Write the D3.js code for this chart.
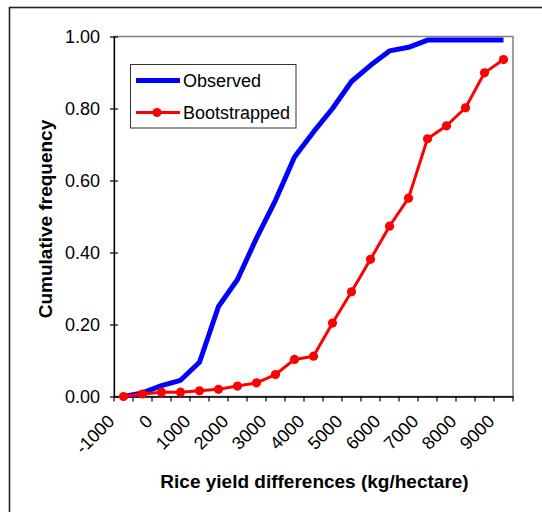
<!DOCTYPE html>
<html>
<head>
<meta charset="utf-8">
<script src="https://cdn.jsdelivr.net/npm/d3@7"></script>
<style>
  html, body { margin: 0; padding: 0; background: #fff; }
  svg { display: block; font-family: "Liberation Sans", Arial, sans-serif; }
</style>
</head>
<body>
<svg id="chart" width="542" height="512"></svg>
<script>
// ---- data ----
const categories = [-1000, -500, 0, 500, 1000, 1500, 2000, 2500, 3000, 3500, 4000,
                    4500, 5000, 5500, 6000, 6500, 7000, 7500, 8000, 8500, 9000];
const tickLabels = [-1000, 0, 1000, 2000, 3000, 4000, 5000, 6000, 7000, 8000, 9000];
const observed = [0.00, 0.01, 0.03, 0.045, 0.095, 0.25, 0.325, 0.44, 0.545, 0.665, 0.735,
                  0.80, 0.875, 0.92, 0.96, 0.97, 0.99, 0.99, 0.99, 0.99, 0.99];
const bootstrapped = [0.00, 0.007, 0.012, 0.012, 0.016, 0.020, 0.029, 0.038, 0.061, 0.103, 0.112,
                      0.204, 0.291, 0.381, 0.473, 0.551, 0.716, 0.752, 0.802, 0.899, 0.936];
const yTicks = [0, 0.2, 0.4, 0.6, 0.8, 1.0];
const seriesNames = ["Observed", "Bootstrapped"];

// ---- layout ----
const svg = d3.select("#chart");
const L = 114, R = 513, T = 36.5, B = 396.5;

const x = d3.scaleBand().domain(categories).range([L, R]).padding(0);
const y = d3.scaleLinear().domain([0, 1]).range([B, T]);
const cx = d => x(d) + x.bandwidth() / 2;

// outer chart frame (partially visible)
svg.append("rect")
  .attr("x", 9.5).attr("y", 7.5).attr("width", 700).attr("height", 700)
  .attr("fill", "none").attr("stroke", "#222").attr("stroke-width", 1.6);

// plot area border
svg.append("rect")
  .attr("x", L).attr("y", T).attr("width", R - L).attr("height", B - T)
  .attr("fill", "none").attr("stroke", "#808080").attr("stroke-width", 1.5);

// y axis
const yAxis = svg.append("g")
  .attr("transform", `translate(${L},0)`)
  .call(d3.axisLeft(y).tickValues(yTicks).tickFormat(d3.format(".2f")).tickSizeInner(4).tickSizeOuter(0).tickPadding(10));
yAxis.select(".domain").attr("stroke", "#000").attr("stroke-width", 1.3);
yAxis.selectAll(".tick line").attr("x1", 4).attr("stroke", "#000").attr("stroke-width", 1.2);
yAxis.selectAll(".tick text").attr("font-size", 18).attr("fill", "#000")
  .attr("font-family", "'Liberation Sans', Arial, sans-serif");

// x axis (labels)
const xAxis = svg.append("g")
  .attr("transform", `translate(0,${B})`)
  .call(d3.axisBottom(x).tickValues(tickLabels).tickSize(0).tickSizeOuter(0));
xAxis.select(".domain").attr("stroke", "#000").attr("stroke-width", 1.3);
xAxis.selectAll(".tick text")
  .attr("font-size", 18).attr("fill", "#000")
  .attr("font-family", "'Liberation Sans', Arial, sans-serif")
  .attr("text-anchor", "end")
  .attr("dy", null).attr("y", null)
  .attr("transform", "translate(-8,26) rotate(-45)");

// x tick marks between categories
const boundaries = categories.map(c => x(c)).concat([R]);
svg.append("g").selectAll("line").data(boundaries).join("line")
  .attr("x1", d => d).attr("x2", d => d)
  .attr("y1", B).attr("y2", B + 5)
  .attr("stroke", "#000").attr("stroke-width", 1.2);

// lines
const line = d3.line().x((d, i) => cx(categories[i])).y(d => y(d));

svg.append("path").datum(observed)
  .attr("d", line).attr("fill", "none")
  .attr("stroke", "#0000FF").attr("stroke-width", 5).attr("stroke-linejoin", "round");

svg.append("path").datum(bootstrapped)
  .attr("d", line).attr("fill", "none")
  .attr("stroke", "#FF0000").attr("stroke-width", 3).attr("stroke-linejoin", "round");

svg.append("g").selectAll("circle").data(bootstrapped).join("circle")
  .attr("cx", (d, i) => cx(categories[i])).attr("cy", d => y(d))
  .attr("r", 4.6).attr("fill", "#FF0000");

// axis titles
svg.append("text")
  .attr("x", 314.5).attr("y", 488)
  .attr("text-anchor", "middle").attr("font-weight", "bold").attr("font-size", 19)
  .text("Rice yield differences (kg/hectare)");

svg.append("text")
  .attr("transform", "translate(52,219) rotate(-90)")
  .attr("text-anchor", "middle").attr("font-weight", "bold").attr("font-size", 19)
  .text("Cumulative frequency");

// legend
const lg = svg.append("g");
lg.append("rect")
  .attr("x", 130.5).attr("y", 64.5).attr("width", 165.5).attr("height", 63.5)
  .attr("fill", "#fff").attr("stroke", "#333").attr("stroke-width", 1);
lg.append("line").attr("x1", 136).attr("x2", 180).attr("y1", 80.5).attr("y2", 80.5)
  .attr("stroke", "#0000FF").attr("stroke-width", 5);
lg.append("line").attr("x1", 136).attr("x2", 180).attr("y1", 112.5).attr("y2", 112.5)
  .attr("stroke", "#FF0000").attr("stroke-width", 3);
lg.append("circle").attr("cx", 157).attr("cy", 112.5).attr("r", 4.6).attr("fill", "#FF0000");
lg.append("text").attr("x", 183).attr("y", 87).attr("font-size", 18).text(seriesNames[0]);
lg.append("text").attr("x", 183).attr("y", 119).attr("font-size", 18).text(seriesNames[1]);
</script>
</body>
</html>
